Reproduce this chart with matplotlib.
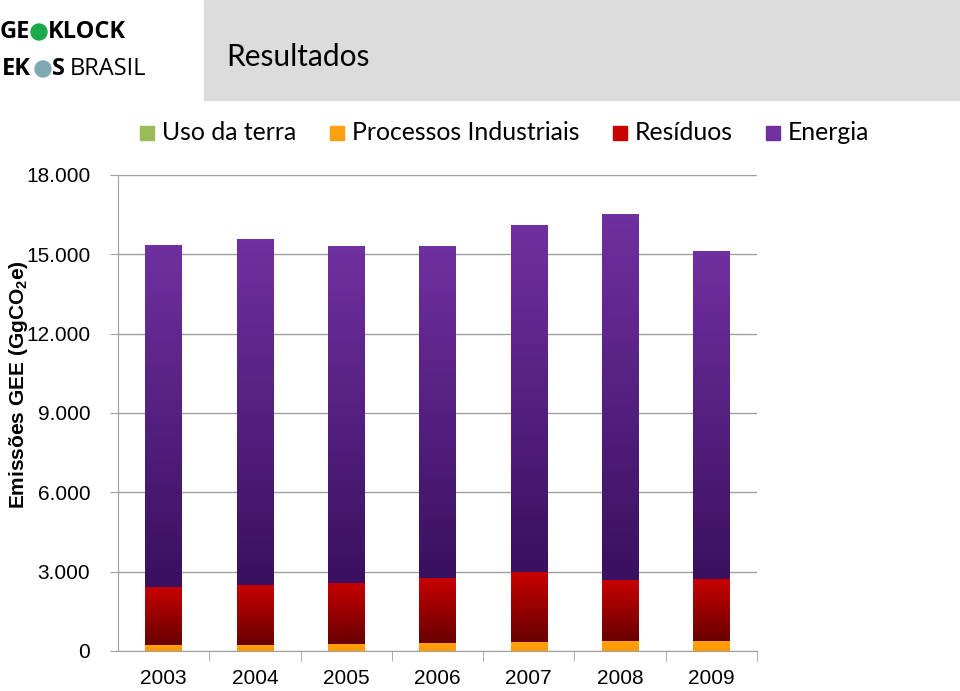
import matplotlib
matplotlib.use('Agg')
import matplotlib.pyplot as plt
from matplotlib.patches import Rectangle, Ellipse
from matplotlib.colors import LinearSegmentedColormap
import numpy as np

# data (GgCO2e)
years = ['2003', '2004', '2005', '2006', '2007', '2008', '2009']
uso_terra = [0, 0, 0, 0, 0, 0, 0]
processos = [215, 240, 277, 302, 328, 366, 391]
residuos = [2194, 2244, 2307, 2458, 2647, 2306, 2344]
energia = [12944, 13096, 12731, 12555, 13135, 13853, 12391]

series = ['Uso da terra', 'Processos Industriais', 'Resíduos', 'Energia']
top_cols = ['#9BBB59', '#FFA010', '#C80000', '#7030A0']
bot_cols = ['#77A033', '#FF9900', '#680000', '#3A1060']

num_font = ['Liberation Sans Narrow', 'Liberation Sans']
txt_font = ['Lato', 'DejaVu Sans']
logo_font = ['Open Sans', 'DejaVu Sans']
plt.rcParams['mathtext.fontset'] = 'custom'
plt.rcParams['mathtext.rm'] = 'Liberation Sans:bold'

fig = plt.figure(figsize=(9.6, 6.91), dpi=100)

def fx(px):
    return px / 960

def fy(py):
    return 1 - py / 691

# header box
fig.patches.append(Rectangle((fx(204), fy(100)), fx(756), 100/691,
                             transform=fig.transFigure, color='#DCDCDC', zorder=0))
fig.text(fx(226), fy(57), 'Resultados', fontsize=21.5, family=txt_font, va='center')

# logos
fig.text(fx(0), fy(32), 'GE', fontsize=17, family=logo_font, weight='bold', va='center')
fig.patches.append(Ellipse((fx(39), fy(32)), fx(16), 16/691, transform=fig.transFigure,
                           color='#1BA94C'))
fig.text(fx(48), fy(32), 'KLOCK', fontsize=17, family=logo_font, weight='bold', va='center')
fig.text(fx(2), fy(69), 'EK', fontsize=17, family=logo_font, weight='bold', va='center')
fig.patches.append(Ellipse((fx(43), fy(69)), fx(16), 16/691, transform=fig.transFigure,
                           color='#7FA8B2'))
fig.text(fx(52), fy(69), 'S', fontsize=17, family=logo_font, weight='bold', va='center')
fig.text(fx(70), fy(69), 'BRASIL', fontsize=17, family=logo_font, va='center')

ax = fig.add_axes([fx(118), fy(651), fx(639), 476/691])
x = np.arange(len(years))
w = 0.4
bottom = np.zeros(len(years))
grad = np.linspace(0, 1, 100).reshape(-1, 1)
for vals, tc, bc in zip([uso_terra, processos, residuos, energia], top_cols, bot_cols):
    vals = np.array(vals, dtype=float)
    bars = ax.bar(x, vals, w, bottom=bottom, color=tc, zorder=2, linewidth=0)
    cmap = LinearSegmentedColormap.from_list('g', [bc, tc])
    for b in bars:
        if b.get_height() <= 0:
            continue
        x0, y0 = b.get_x(), b.get_y()
        im = ax.imshow(grad, extent=[x0, x0 + b.get_width(), y0, y0 + b.get_height()],
                       origin='lower', aspect='auto', cmap=cmap, zorder=3)
        im.set_clip_path(b)
    bottom += vals

ax.set_xlim(-0.5, 6.5)
ax.set_ylim(0, 18000)
yt = np.arange(0, 18001, 3000)
ax.set_yticks(yt)
ax.set_yticklabels(['0' if v == 0 else f'{v//1000}.000' for v in yt],
                   fontsize=15, family=num_font)
ax.set_xticks(x)
ax.set_xticklabels(years, fontsize=15, family=num_font)
ax.set_xticks(np.arange(0.5, 7, 1), minor=True)
ax.tick_params(axis='x', which='major', length=0, pad=13)
ax.tick_params(axis='x', which='minor', length=7, color='#A0A0A0', direction='out')
ax.tick_params(axis='y', length=6, color='#A0A0A0', pad=14)
ax.grid(axis='y', color='#A0A0A0', lw=1, zorder=1)
for s in ['top', 'right']:
    ax.spines[s].set_visible(False)
for s in ['left', 'bottom']:
    ax.spines[s].set_color('#A0A0A0')
ax.set_ylabel('Emissões GEE (GgCO$_2$e)', fontsize=15, family=num_font, weight='bold')
ax.yaxis.set_label_coords(-0.137, 0.56)

# legend
leg_x = [140, 330, 613, 766]
for lx, name, tc in zip(leg_x, series, top_cols):
    fig.patches.append(Rectangle((fx(lx), fy(140)), fx(14), 14/691,
                                 transform=fig.transFigure, color=tc))
    fig.text(fx(lx + 22), fy(132), name, fontsize=17.8, family=txt_font, va='center')

fig.savefig('out.png', dpi=100)
